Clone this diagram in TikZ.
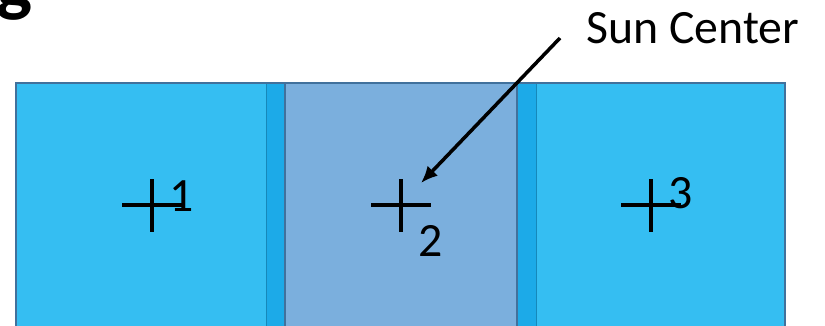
\documentclass[tikz,border=0pt]{standalone}
\usepackage{fontspec}
\setmainfont{Carlito}
\usepackage{tikz}
\usetikzlibrary{arrows.meta,positioning,calc}
\definecolor{tilefill}{RGB}{53,190,242}
\definecolor{overlap}{RGB}{28,170,232}
\definecolor{sunfill}{RGB}{123,175,221}
\definecolor{tileedge}{RGB}{65,113,156}

\begin{document}
\begin{tikzpicture}[x=0.025cm,y=-0.025cm,
  cross/.style={line width=2.6pt,black},
  num/.style={font=\fontsize{34}{36}\selectfont,inner sep=0pt}]
\useasboundingbox (0,0) rectangle (825,325);
% cut-off title letter
\node[font=\fontsize{54}{60}\selectfont\bfseries,anchor=base,inner sep=0pt] (title) at (15,7) {g};
% tiles
\fill[tilefill] (16,83) rectangle (285,340);
\fill[tilefill] (517,83) rectangle (785,340);
\fill[overlap] (266,83) rectangle (285,340);
\fill[overlap] (517,83) rectangle (536,340);
\fill[sunfill] (285,83) rectangle (517,340);
\draw[overlap!80!black,line width=0.4pt] (266,84)--(266,340) (536,84)--(536,340);
\draw[tileedge,line width=0.8pt] (16,340)--(16,83)--(785,83)--(785,340);
\draw[tileedge,line width=1pt] (285,83)--(285,340) (517,83)--(517,340);
% centres
\foreach \n/\x/\lx/\ly in {1/152/182/196, 2/401/431/241, 3/651/681/193}{
  \coordinate (c\n) at (\x,205);
  \draw[cross] ($(c\n)+(-30,0)$)--($(c\n)+(30,0)$);
  \draw[cross] ($(c\n)+(0,-26)$)--($(c\n)+(0,27)$);
  \node[num] (n\n) at (\lx,\ly) {\n};
}
\node[num,anchor=west] (sun) at (586,28) {Sun Center};
\coordinate (tail) at (560,38);
\coordinate (tip) at (421,183);
\draw[-{Latex[length=0.42cm,width=0.36cm]},line width=2.5pt] (tail)--(tip);
\end{tikzpicture}
\end{document}
